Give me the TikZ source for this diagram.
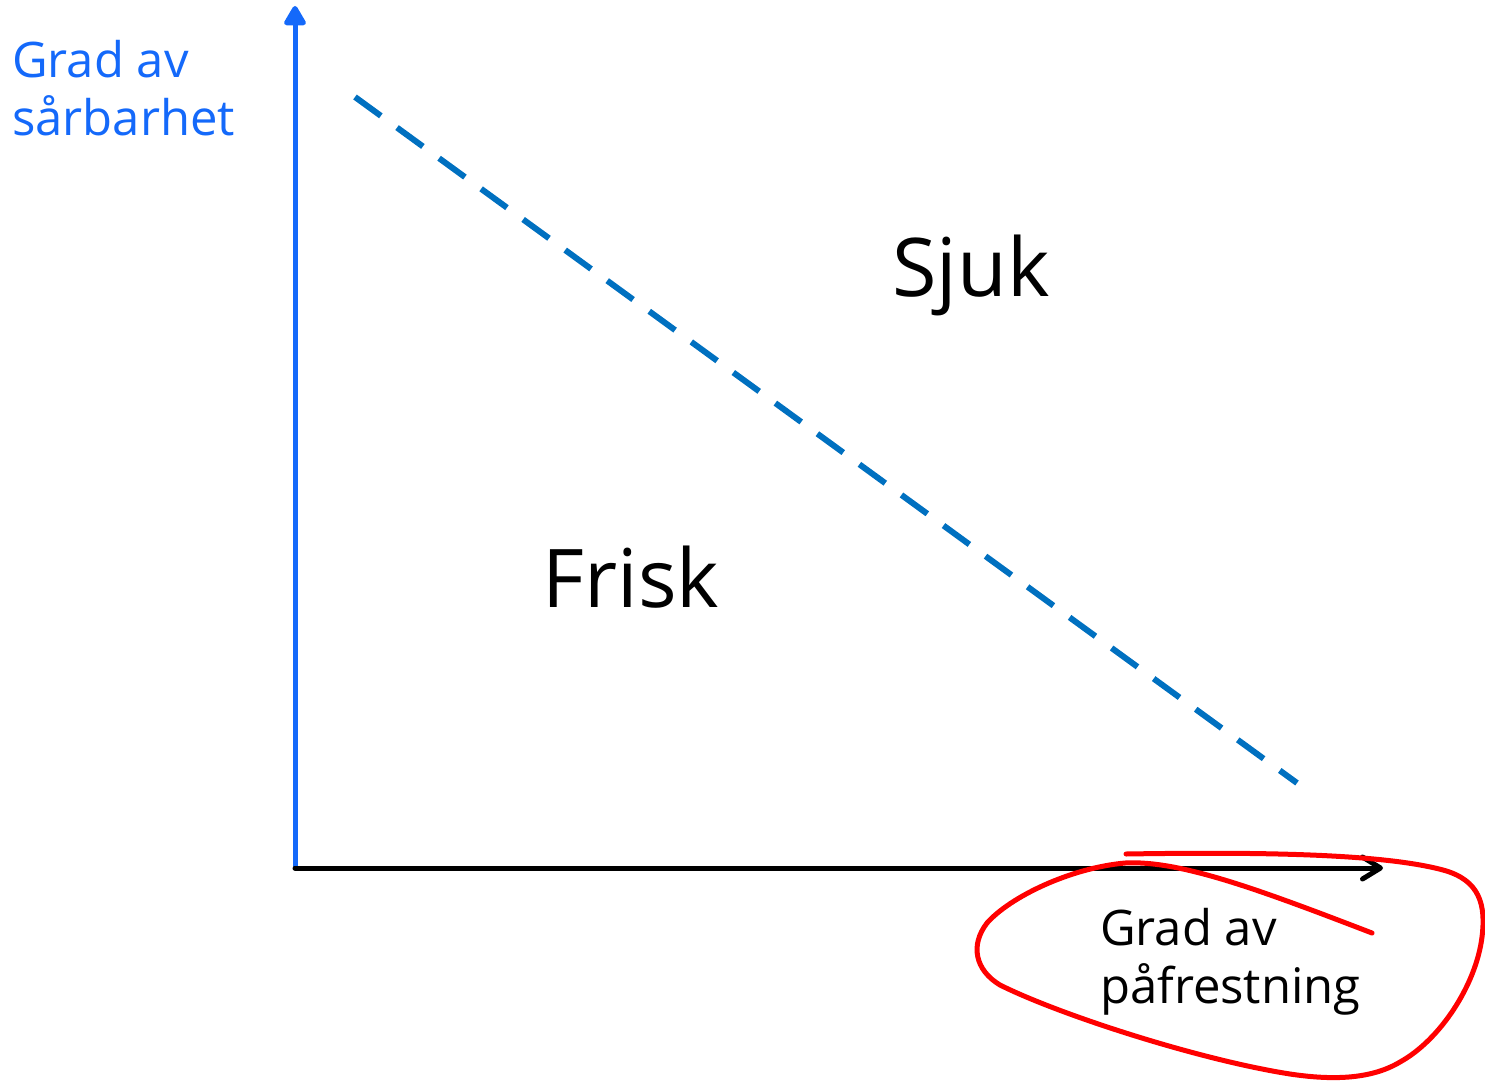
\documentclass[tikz,border=0pt]{standalone}
\usepackage{fontspec}
\setmainfont{Open Sans}
\usetikzlibrary{arrows.meta}
\definecolor{axisblue}{RGB}{20,105,250}
\definecolor{dashblue}{RGB}{0,112,192}
\tikzset{
  lbl/.style={inner sep=0pt, align=left, font=\fontsize{49}{58}\selectfont},
  big/.style={inner sep=0pt, font=\fontsize{81}{86}\selectfont},
  axisline/.style={line width=5pt},
}
\begin{document}
\begin{tikzpicture}[x=1pt,y=-1pt]
\useasboundingbox (0,0) rectangle (1485,1081);
\coordinate (o) at (295,868);
\coordinate (ytop) at (295,6);
\coordinate (xend) at (1383,868);
\coordinate (dA) at (355,97);
\coordinate (dB) at (1297,783);
\draw[axisline, axisblue, -{Triangle[length=22pt,width=24pt,round]}] (o) -- (ytop);
\draw[axisline, black, line cap=round, -{Straight Barb[length=18pt,width=22pt,round,line width=5pt]}] (o) -- (xend);
\draw[line width=6pt, dashblue, dash pattern=on 32pt off 20pt] (dA) -- (dB);
\node[lbl, text=axisblue, anchor=north west] (ylab) at (12,40) {Grad av\\sårbarhet};
\node[big, anchor=center] (sjuk) at (971,275) {Sjuk};
\node[big, anchor=center] (frisk) at (631,577) {Frisk};
\node[lbl, anchor=north west] (xlab) at (1100,908) {Grad av\\påfrestning};
\draw[red, line width=5pt, line cap=round, line join=round]
  (1126,854) .. controls (1250,852) and (1380,853) .. (1443,870)
  .. controls (1480,880) and (1486,905) .. (1482,937)
  .. controls (1476,985) and (1440,1040) .. (1400,1062)
  .. controls (1370,1080) and (1330,1080) .. (1290,1074)
  .. controls (1200,1060) and (1060,1015) .. (1000,985)
  .. controls (975,970) and (970,945) .. (987,923)
  .. controls (1010,897) and (1070,868) .. (1125,863)
  .. controls (1180,860) and (1260,890) .. (1372,933);
\end{tikzpicture}
\end{document}
